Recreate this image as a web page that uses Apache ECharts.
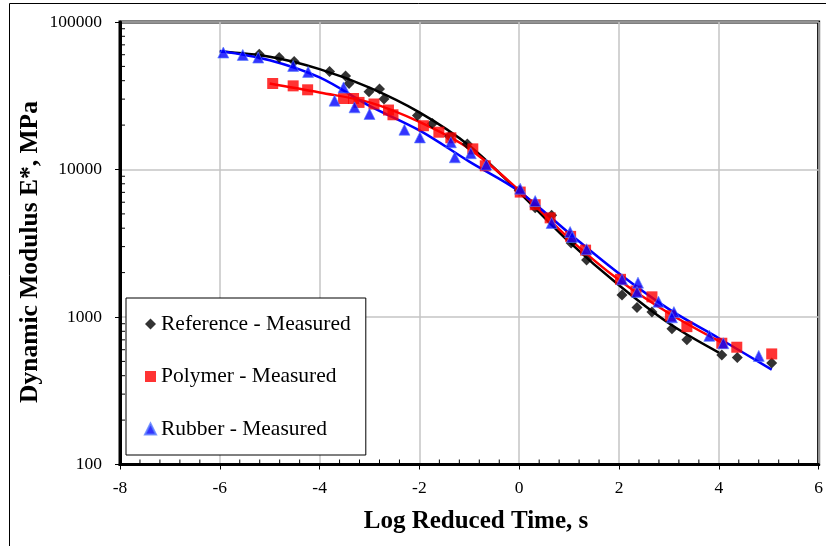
<!DOCTYPE html>
<html><head><meta charset="utf-8">
<script src="https://cdn.jsdelivr.net/npm/echarts@6/dist/echarts.min.js"></script>
<style>html,body{margin:0;padding:0;background:#fff}#c{width:826px;height:546px}</style>
</head><body><div id="c"></div>
<script>
// Measured data
var refX = [-5.21,-4.81,-4.51,-3.80,-3.48,-3.41,-3.01,-2.80,-2.71,-2.04,-1.74,-1.40,-1.04,0.00,0.32,0.65,1.04,1.35,2.06,2.36,2.66,3.06,3.36,4.06,4.37,5.06];
var refY = [60500,57400,53900,46100,43000,38300,33700,35100,30000,23200,20500,16800,14900,7200,5500,4890,3180,2430,1410,1160,1080,834,700,553,531,487];
var polX = [-4.94,-4.53,-4.24,-3.52,-3.32,-3.21,-2.91,-2.62,-2.53,-1.92,-1.61,-1.37,-0.93,-0.68,0.02,0.32,0.62,1.03,1.33,2.03,2.34,2.66,3.03,3.36,4.06,4.36,5.06];
var polY = [38300,36900,34700,30300,30300,28500,27800,25300,23500,19800,17900,16400,13800,10600,7030,5770,4700,3520,2840,1800,1500,1370,1020,860,664,624,562];
var rubX = [-5.93,-5.54,-5.23,-4.53,-4.23,-3.70,-3.52,-3.30,-3.00,-2.30,-1.99,-1.37,-1.29,-0.97,-0.66,0.02,0.32,0.65,1.02,1.06,1.35,2.06,2.38,2.36,2.79,3.10,3.06,3.81,4.09,4.80];
var rubY = [62100,59800,57400,50400,45900,29300,36000,26400,23800,18600,16500,15300,12100,12900,10800,7410,6110,4340,3770,3490,2880,1800,1710,1480,1270,1080,995,745,664,545];
// Fitted master curves
var refFitX = [-6,-5,-4,-3,-2,-1,0,1,2,3,4];
var refFitY = [63000,58100,47900,35900,24400,14500,7000,3230,1640,906,574];
var polFitX = [-5,-4,-3,-2,-1,0,1,2,3,4.06];
var polFitY = [38300,33300,28500,21000,13800,7200,3400,1780,1060,670];
var rubFitX = [-6,-5,-4,-3,-2,-1,0,1,2,3,4,5.06];
var rubFitY = [63700,55100,42100,27000,18400,11300,7100,3700,1970,1130,718,440];
// Axis ticks
var xTicks = [-8,-6,-4,-2,0,2,4,6];
var yTicks = [100,1000,10000,100000];
var xMinorTicks = [];
for (var i = 0; i < 35; i++) { var v = -8 + i * 0.4; if (Math.abs(v / 2 - Math.round(v / 2)) > 1e-6) xMinorTicks.push(+v.toFixed(1)); }
var yMinorTicks = [200,300,400,500,600,700,800,900,2000,3000,4000,5000,6000,7000,8000,9000,20000,30000,40000,50000,60000,70000,80000,90000];
var xTitle = 'Log Reduced Time, s';
var yTitle = 'Dynamic Modulus E*, MPa';

function zip(a, b) { return a.map(function (v, i) { return [v, b[i]]; }); }

var FONT = 'Liberation Serif';
var chart = echarts.init(document.getElementById('c'), null, {renderer: 'canvas'});

var option = {
  animation: false,
  backgroundColor: '#fff',
  textStyle: {fontFamily: FONT},
  grid: {left: 120, right: 4, top: 22, bottom: 81.5, show: true, borderColor: '#000', borderWidth: 3, backgroundColor: 'transparent'},
  xAxis: {
    type: 'value', min: -8, max: 6, interval: 2,
    axisLine: {show: true, onZero: false, lineStyle: {color: '#000', width: 3}},
    axisTick: {show: true, inside: false, length: 5, lineStyle: {color: '#000', width: 1}},
    splitLine: {show: true, lineStyle: {color: '#c4c4c4', width: 1.5}},
    axisLabel: {color: '#000', fontSize: 17.5, fontFamily: FONT, margin: 15, formatter: function (v) { return String(v); }}
  },
  yAxis: {
    type: 'log', logBase: 10, min: 100, max: 100000,
    axisLine: {show: true, onZero: false, lineStyle: {color: '#000', width: 3}},
    axisTick: {show: true, inside: false, length: 5, lineStyle: {color: '#000', width: 1}},
    splitLine: {show: true, lineStyle: {color: '#c4c4c4', width: 1.5}},
    axisLabel: {color: '#000', fontSize: 17.5, fontFamily: FONT, margin: 18, formatter: function (v) { return String(Math.round(v)); }}
  },
  legend: {
    orient: 'vertical', left: 126, top: 298,
    padding: [14, 15, 14, 18], itemGap: 28.5, itemWidth: 11, itemHeight: 11,
    borderColor: '#000', borderWidth: 1, backgroundColor: '#fff',
    textStyle: {color: '#000', fontSize: 21.5, fontFamily: FONT, lineHeight: 24},
    data: ['Reference - Measured', 'Polymer - Measured', 'Rubber - Measured']
  },
  graphic: [
    {type: 'rect', shape: {x: 9.5, y: 3.5, width: 900, height: 700}, style: {fill: 'none', stroke: '#000', lineWidth: 1}, silent: true, z: 100},
    {type: 'text', x: 476, y: 522, style: {text: xTitle, font: 'bold 25px "Liberation Serif"', fill: '#000', textAlign: 'center', textVerticalAlign: 'middle'}, silent: true},
    {type: 'text', x: 30, y: 252, rotation: Math.PI / 2, style: {text: yTitle, font: 'bold 25.5px "Liberation Serif"', fill: '#000', textAlign: 'center', textVerticalAlign: 'middle'}, silent: true}
  ],
  series: [
    {name: 'refFit', type: 'line', data: zip(refFitX, refFitY), smooth: 0.35, symbol: 'none', lineStyle: {color: '#000', width: 2.5}, z: 2},
    {name: 'polFit', type: 'line', data: zip(polFitX, polFitY), smooth: 0.35, symbol: 'none', lineStyle: {color: '#ff0000', width: 2.5}, z: 2},
    {name: 'rubFit', type: 'line', data: zip(rubFitX, rubFitY), smooth: 0.35, symbol: 'none', lineStyle: {color: '#0000ff', width: 2.5}, z: 2},
    {name: 'Reference - Measured', type: 'scatter', data: zip(refX, refY), symbol: 'diamond', symbolSize: 11, itemStyle: {color: '#000'}, z: 3},
    {name: 'Polymer - Measured', type: 'scatter', data: zip(polX, polY), symbol: 'rect', symbolSize: 11, itemStyle: {color: '#ff0000'}, z: 4},
    {name: 'Rubber - Measured', type: 'scatter', data: zip(rubX, rubY), symbol: 'triangle', symbolSize: 11, itemStyle: {color: '#0000ff', borderColor: '#5a7dff', borderWidth: 0.8}, z: 5},
    {name: 'xMinor', type: 'custom', data: xMinorTicks.map(function (v) { return [v]; }), silent: true, clip: false, z: 6,
      renderItem: function (params, api) {
        var p = api.coord([api.value(0), 100]);
        return {type: 'line', shape: {x1: p[0], y1: p[1], x2: p[0], y2: p[1] - 5}, style: {stroke: '#000', lineWidth: 1}};
      }},
    {name: 'yMinor', type: 'custom', data: yMinorTicks.map(function (v) { return [-8, v]; }), silent: true, clip: false, z: 6,
      renderItem: function (params, api) {
        var p = api.coord([-8, api.value(1)]);
        return {type: 'line', shape: {x1: p[0], y1: p[1], x2: p[0] + 5, y2: p[1]}, style: {stroke: '#000', lineWidth: 1}};
      }}
  ]
};
chart.setOption(option);
</script></body></html>
